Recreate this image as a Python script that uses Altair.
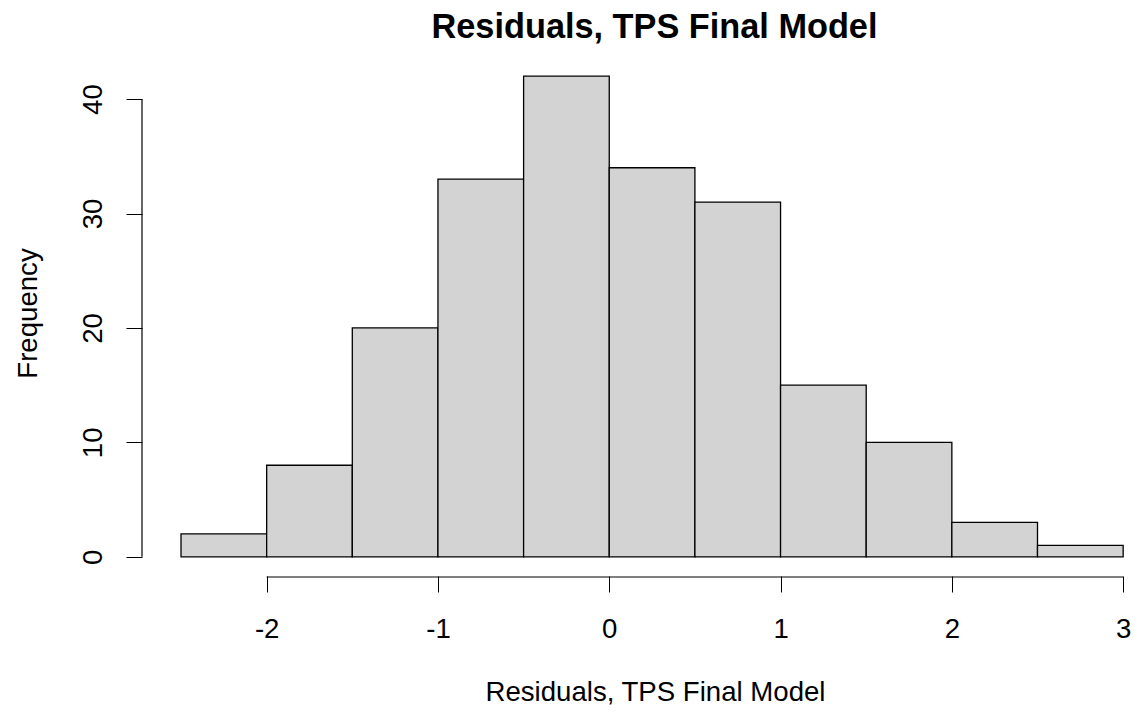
import altair as alt
import pandas as pd

bin_start = [-2.5, -2.0, -1.5, -1.0, -0.5, 0.0, 0.5, 1.0, 1.5, 2.0, 2.5]
bin_end = [-2.0, -1.5, -1.0, -0.5, 0.0, 0.5, 1.0, 1.5, 2.0, 2.5, 3.0]
counts = [2, 8, 20, 33, 42, 34, 31, 15, 10, 3, 1]
x_ticks = [-2, -1, 0, 1, 2, 3]
y_ticks = [0, 10, 20, 30, 40]

df = pd.DataFrame({"start": bin_start, "end": bin_end, "count": counts, "zero": [0] * len(counts)})

FONT = "Liberation Sans"
W, H = 989, 519
FS = 27.6

xscale = alt.Scale(domain=[-2.7277, 3.0458], nice=False, zero=False)
yscale = alt.Scale(domain=[-1.68, 43.68], nice=False, zero=False)

bars = alt.Chart(df).mark_rect(
    fill="#D3D3D3", stroke="black", strokeWidth=1.3
).encode(
    x=alt.X("start:Q", scale=xscale,
            axis=alt.Axis(values=x_ticks, domain=False, grid=False, tickSize=16,
                          tickColor="black", labelFont=FONT, labelFontSize=FS,
                          labelColor="black", labelBaseline="alphabetic",
                          labelPadding=45, labelFlush=False,
                          labelExpr="'' + datum.value",
                          title="Residuals, TPS Final Model", titleFont=FONT,
                          titleFontSize=FS, titleFontWeight="normal", titleColor="black",
                          titleX=513, titleY=124, titleBaseline="alphabetic",
                          titleAlign="center")),
    x2="end:Q",
    y=alt.Y("count:Q", scale=yscale,
            axis=alt.Axis(values=y_ticks, domain=False, grid=False, tickSize=16,
                          tickColor="black", labelFont=FONT, labelFontSize=FS,
                          labelColor="black", labelAngle=270, labelAlign="center",
                          labelBaseline="alphabetic", labelPadding=25, labelFlush=False,
                          labelExpr="'' + datum.value",
                          title="Frequency", titleFont=FONT, titleFontSize=FS,
                          titleFontWeight="normal", titleColor="black",
                          titleAngle=270, titleX=-106, titleY=256,
                          titleBaseline="alphabetic", titleAlign="center")),
    y2="zero:Q",
)

yline_df = pd.DataFrame({"lo": [y_ticks[0]], "hi": [y_ticks[-1]]})
yline = alt.Chart(yline_df).mark_rule(color="black", strokeWidth=1.2).encode(
    x=alt.value(0),
    y=alt.Y("lo:Q", scale=yscale),
    y2="hi:Q",
)

xline_df = pd.DataFrame({"lo": [x_ticks[0]], "hi": [x_ticks[-1]]})
xline = alt.Chart(xline_df).mark_rule(color="black", strokeWidth=1.2).encode(
    y=alt.value(H + 1),
    x=alt.X("lo:Q", scale=xscale),
    x2="hi:Q",
)

chart = alt.layer(bars, yline, xline).properties(
    width=W,
    height=H,
    background="white",
    title=alt.TitleParams(
        "Residuals, TPS Final Model", font=FONT, fontSize=34.3, fontWeight="bold",
        color="black", anchor="middle", dx=18, dy=32, offset=17, baseline="alphabetic",
    ),
    autosize=alt.AutoSizeParams(type="none"),
    padding={"left": 134, "top": 49, "right": 0, "bottom": 129},
).configure_view(strokeWidth=0)

chart.save("out.html", embed_options={"renderer": "svg", "actions": False})
